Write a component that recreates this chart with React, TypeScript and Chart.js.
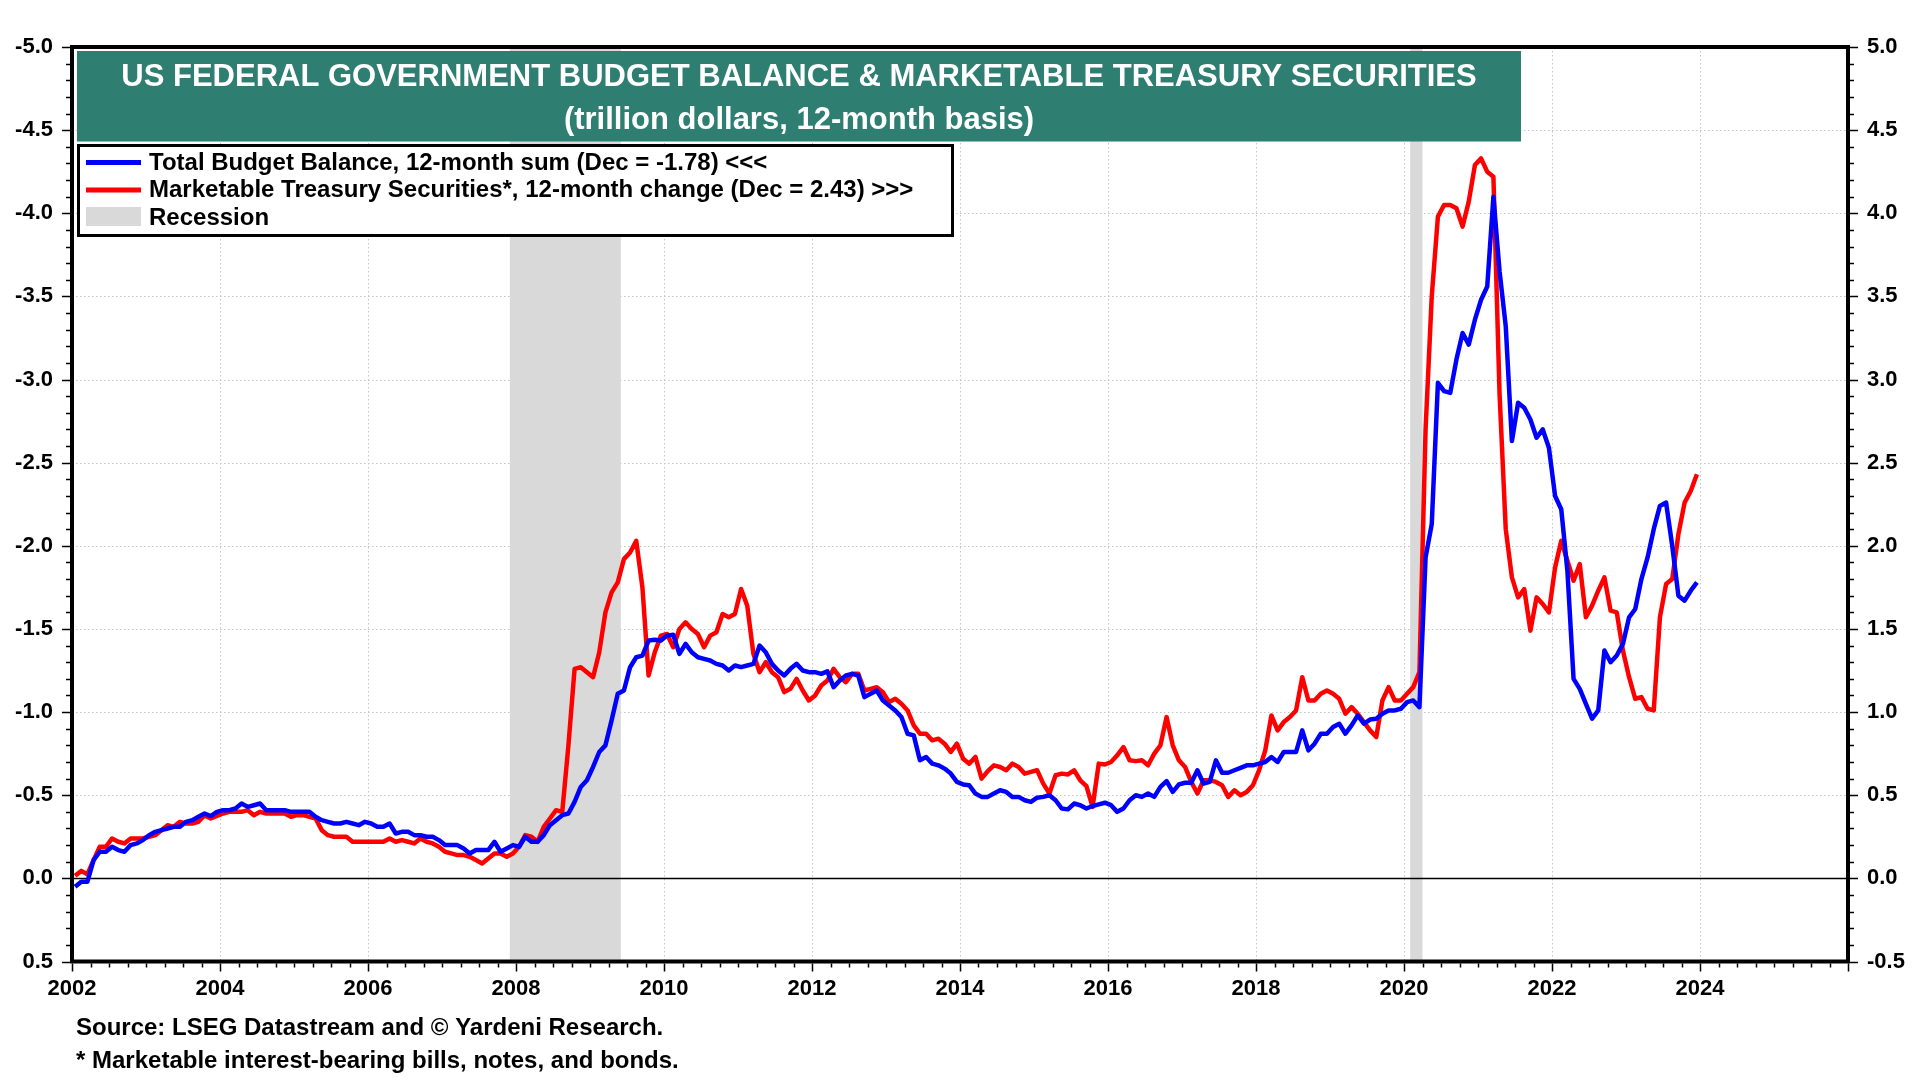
import React, { useEffect, useRef } from "react";
import { Chart, registerables } from "chart.js";

Chart.register(...registerables);

const FIRST_YEAR = 2002;

// Total budget balance, 12-month sum, trillion $ (Jan 2002 .. Dec 2023), left axis (inverted)
const budgetBalance: number[] = [
  0.05, 0.02, 0.02, -0.11, -0.16, -0.16, -0.19, -0.17, -0.16, -0.2, -0.21, -0.23,
  -0.26, -0.28, -0.29, -0.3, -0.31, -0.31, -0.34, -0.35, -0.37, -0.39, -0.375, -0.4,
  -0.41, -0.41, -0.42, -0.45, -0.43, -0.44, -0.45, -0.41, -0.41, -0.41, -0.41, -0.4,
  -0.4, -0.4, -0.4, -0.37, -0.35, -0.34, -0.33, -0.33, -0.34, -0.33, -0.32, -0.34,
  -0.33, -0.31, -0.31, -0.33, -0.27, -0.28, -0.28, -0.26, -0.26, -0.25, -0.25, -0.23,
  -0.2, -0.2, -0.2, -0.18, -0.15, -0.17, -0.17, -0.17, -0.22, -0.16, -0.18, -0.2,
  -0.19, -0.25, -0.22, -0.22, -0.26, -0.32, -0.35, -0.38, -0.39, -0.46, -0.55, -0.59,
  -0.67, -0.76, -0.8, -0.95, -1.11, -1.13, -1.27, -1.33, -1.34, -1.43, -1.435, -1.43,
  -1.46, -1.465, -1.35, -1.41, -1.36, -1.33, -1.32, -1.31, -1.29, -1.28, -1.25, -1.28,
  -1.27, -1.28, -1.29, -1.4, -1.36, -1.29, -1.25, -1.22, -1.26, -1.29, -1.25, -1.24,
  -1.24, -1.23, -1.245, -1.15, -1.19, -1.22, -1.23, -1.22, -1.09, -1.11, -1.13, -1.07,
  -1.04, -1.01, -0.97, -0.87, -0.86, -0.71, -0.73, -0.69, -0.68, -0.66, -0.63, -0.58,
  -0.565, -0.56, -0.51, -0.49, -0.49, -0.51, -0.53, -0.52, -0.49, -0.49, -0.47, -0.46,
  -0.485, -0.49, -0.5, -0.47, -0.42, -0.415, -0.45, -0.44, -0.42, -0.435, -0.445, -0.455,
  -0.44, -0.4, -0.42, -0.47, -0.5, -0.49, -0.51, -0.49, -0.55, -0.585, -0.52, -0.565,
  -0.575, -0.575, -0.65, -0.57, -0.58, -0.71, -0.635, -0.635, -0.65, -0.665, -0.68, -0.68,
  -0.69, -0.7, -0.73, -0.7, -0.76, -0.76, -0.76, -0.89, -0.77, -0.81, -0.87, -0.87,
  -0.91, -0.93, -0.87, -0.92, -0.98, -0.93, -0.955, -0.96, -0.99, -1.01, -1.01, -1.02,
  -1.06, -1.07, -1.03, -1.93, -2.13, -2.98, -2.93, -2.92, -3.12, -3.28, -3.21, -3.36,
  -3.48, -3.56, -4.1, -3.65, -3.32, -2.63, -2.86, -2.83, -2.76, -2.65, -2.7, -2.59,
  -2.3, -2.22, -1.85, -1.2, -1.14, -1.05, -0.96, -1.01, -1.37, -1.3, -1.34, -1.41,
  -1.57, -1.62, -1.8, -1.93, -2.1, -2.24, -2.26, -2.0, -1.7, -1.67, -1.73, -1.78,
];

// Marketable Treasury securities, 12-month change, trillion $ (Jan 2002 .. Dec 2023), right axis
const treasuryChange: number[] = [
  0.015, 0.045, 0.025, 0.11, 0.19, 0.19, 0.24, 0.22, 0.21, 0.24, 0.24, 0.24,
  0.25, 0.26, 0.29, 0.32, 0.31, 0.34, 0.33, 0.33, 0.34, 0.38, 0.36, 0.375,
  0.39, 0.4, 0.4, 0.4, 0.41, 0.38, 0.4, 0.39, 0.39, 0.39, 0.39, 0.37,
  0.38, 0.38, 0.37, 0.36, 0.29, 0.26, 0.25, 0.25, 0.25, 0.22, 0.22, 0.22,
  0.22, 0.22, 0.22, 0.24, 0.22, 0.23, 0.22, 0.21, 0.24, 0.22, 0.21, 0.19,
  0.16, 0.15, 0.14, 0.14, 0.13, 0.11, 0.09, 0.12, 0.15, 0.15, 0.13, 0.15,
  0.19, 0.26, 0.25, 0.22, 0.31, 0.36, 0.41, 0.4, 0.8, 1.26, 1.27, 1.24,
  1.21, 1.36, 1.6, 1.72, 1.78, 1.92, 1.96, 2.03, 1.75, 1.22, 1.36, 1.46,
  1.47, 1.39, 1.5, 1.54, 1.5, 1.47, 1.39, 1.46, 1.48, 1.59, 1.57, 1.59,
  1.74, 1.64, 1.35, 1.24, 1.3, 1.24, 1.21, 1.12, 1.14, 1.2, 1.13, 1.07,
  1.1, 1.16, 1.19, 1.26, 1.21, 1.18, 1.23, 1.23, 1.13, 1.14, 1.15, 1.12,
  1.06, 1.08, 1.05, 1.01, 0.92, 0.87, 0.87, 0.83, 0.84, 0.81, 0.76, 0.81,
  0.72, 0.69, 0.73, 0.6, 0.645, 0.68, 0.67, 0.65, 0.69, 0.67, 0.63, 0.64,
  0.65, 0.57, 0.51, 0.62, 0.63, 0.625, 0.65, 0.59, 0.555, 0.43, 0.69, 0.685,
  0.7, 0.74, 0.79, 0.71, 0.705, 0.71, 0.68, 0.75, 0.8, 0.97, 0.8, 0.71,
  0.67, 0.58, 0.51, 0.59, 0.59, 0.58, 0.56, 0.49, 0.53, 0.5, 0.52, 0.56,
  0.65, 0.77, 0.98, 0.89, 0.94, 0.97, 1.01, 1.21, 1.07, 1.07, 1.11, 1.13,
  1.11, 1.08, 0.99, 1.03, 0.99, 0.94, 0.89, 0.85, 1.07, 1.15, 1.07, 1.07,
  1.11, 1.15, 1.24, 2.7, 3.5, 3.98, 4.05, 4.05, 4.03, 3.92, 4.07, 4.29,
  4.33, 4.25, 4.22, 2.91, 2.1, 1.81, 1.69, 1.74, 1.49, 1.69, 1.65, 1.6,
  1.87, 2.03, 1.91, 1.79, 1.89, 1.57, 1.64, 1.73, 1.81, 1.61, 1.6, 1.37,
  1.21, 1.08, 1.09, 1.02, 1.01, 1.57, 1.77, 1.8, 2.07, 2.26, 2.33, 2.43,
];

// monthly observations, plotted mid-month
const monthDates: number[] = budgetBalance.map((_, i) => FIRST_YEAR + (i + 0.5) / 12);

const recessionStarts = [2007 + 11 / 12, 2020 + 1 / 12];
const recessionEnds = [2009 + 5 / 12, 2020 + 3 / 12];

const titleLines = [
  "US FEDERAL GOVERNMENT BUDGET BALANCE & MARKETABLE TREASURY SECURITIES",
  "(trillion dollars, 12-month basis)",
];
const seriesLabels = [
  "Total Budget Balance, 12-month sum (Dec = -1.78) <<<",
  "Marketable Treasury Securities*, 12-month change (Dec = 2.43) >>>",
];
const recessionLabel = "Recession";
const footnotes = [
  "Source: LSEG Datastream and \u00A9 Yardeni Research.",
  "* Marketable interest-bearing bills, notes, and bonds.",
];

const X_MIN = 2002;
const X_MAX = 2026;
const X_LAST_LABEL = 2024;
const LEFT_MIN = -5;
const LEFT_MAX = 0.5;
const RIGHT_MIN = -0.5;
const RIGHT_MAX = 5;

const FONT = '"Liberation Sans", Arial, Helvetica, sans-serif';
const BLUE = "#0000ff";
const RED = "#ff0000";
const TEAL = "#2e7e72";
const SHADE = "#d9d9d9";
const GRID = "#c4c4c4";

const decorPlugin = {
  id: "decor",
  beforeDraw(chart: any) {
    const { ctx, width, height } = chart;
    ctx.save();
    ctx.fillStyle = "#ffffff";
    ctx.fillRect(0, 0, width, height);
    ctx.restore();
  },
  beforeDatasetsDraw(chart: any) {
    const { ctx, chartArea: a, scales } = chart;
    const xs = scales.x;
    const yL = scales.yL;
    ctx.save();
    // dotted grid
    ctx.strokeStyle = GRID;
    ctx.lineWidth = 1;
    ctx.setLineDash([1.5, 2.5]);
    xs.ticks.forEach((t: any) => {
      if (t.value > xs.min && t.value < xs.max) {
        const px = Math.round(xs.getPixelForValue(t.value)) + 0.5;
        ctx.beginPath();
        ctx.moveTo(px, a.top);
        ctx.lineTo(px, a.bottom);
        ctx.stroke();
      }
    });
    yL.ticks.forEach((t: any) => {
      if (t.value > yL.min && t.value < yL.max) {
        const py = Math.round(yL.getPixelForValue(t.value)) + 0.5;
        ctx.beginPath();
        ctx.moveTo(a.left, py);
        ctx.lineTo(a.right, py);
        ctx.stroke();
      }
    });
    ctx.setLineDash([]);
    // recession shading
    ctx.fillStyle = SHADE;
    recessionStarts.forEach((s, i) => {
      const x0 = xs.getPixelForValue(s);
      const x1 = xs.getPixelForValue(recessionEnds[i]);
      ctx.fillRect(x0, a.top, x1 - x0, a.bottom - a.top);
    });
    // zero line
    const y0 = Math.round(yL.getPixelForValue(0)) + 0.5;
    ctx.strokeStyle = "#000000";
    ctx.lineWidth = 1.3;
    ctx.beginPath();
    ctx.moveTo(a.left, y0);
    ctx.lineTo(a.right, y0);
    ctx.stroke();
    ctx.restore();
  },
  afterDraw(chart: any) {
    const { ctx, chartArea: a, scales } = chart;
    const xs = scales.x;
    const yL = scales.yL;
    const yR = scales.yR;
    ctx.save();

    // frame
    ctx.strokeStyle = "#000000";
    ctx.lineWidth = 4;
    ctx.strokeRect(a.left, a.top, a.right - a.left, a.bottom - a.top);

    // tick marks
    ctx.lineWidth = 1.5;
    ctx.beginPath();
    const nQ = (X_MAX - X_MIN) * 4;
    for (let q = 0; q <= nQ; q++) {
      const v = X_MIN + q / 4;
      const major = q % 8 === 0;
      const px = Math.round(xs.getPixelForValue(v)) + 0.5;
      ctx.moveTo(px, a.bottom + 2);
      ctx.lineTo(px, a.bottom + 2 + (major ? 8 : 4));
    }
    const nY = Math.round((LEFT_MAX - LEFT_MIN) * 10);
    for (let k = 0; k <= nY; k++) {
      const major = k % 5 === 0;
      const len = major ? 8 : 4;
      const pl = Math.round(yL.getPixelForValue(LEFT_MIN + k / 10)) + 0.5;
      ctx.moveTo(a.left - 2, pl);
      ctx.lineTo(a.left - 2 - len, pl);
      const pr = Math.round(yR.getPixelForValue(RIGHT_MIN + k / 10)) + 0.5;
      ctx.moveTo(a.right + 2, pr);
      ctx.lineTo(a.right + 2 + len, pr);
    }
    ctx.stroke();

    // title box
    ctx.fillStyle = TEAL;
    ctx.fillRect(77, 51, 1444, 90.5);
    ctx.fillStyle = "#ffffff";
    ctx.textAlign = "center";
    ctx.textBaseline = "alphabetic";
    ctx.font = `bold 31px ${FONT}`;
    ctx.fillText(titleLines[0], 799, 85.5);
    ctx.fillText(titleLines[1], 799, 128.5);

    // legend box
    ctx.fillStyle = "#ffffff";
    ctx.fillRect(78.5, 145.5, 874, 90);
    ctx.strokeStyle = "#000000";
    ctx.lineWidth = 3;
    ctx.strokeRect(78.5, 145.5, 874, 90);
    const rows = [161, 188.5, 216];
    ctx.font = `bold 24px ${FONT}`;
    ctx.textAlign = "left";
    chart.data.datasets.forEach((ds: any, i: number) => {
      ctx.strokeStyle = ds.borderColor;
      ctx.lineWidth = 5;
      ctx.beginPath();
      ctx.moveTo(86, rows[i] + 1.5);
      ctx.lineTo(141, rows[i] + 1.5);
      ctx.stroke();
      ctx.fillStyle = "#000000";
      ctx.fillText(ds.label, 149, rows[i] + 8.6);
    });
    ctx.fillStyle = SHADE;
    ctx.fillRect(86, 207, 55, 19);
    ctx.fillStyle = "#000000";
    ctx.fillText(recessionLabel, 149, rows[2] + 8.6);

    // footnotes
    ctx.font = `bold 24px ${FONT}`;
    ctx.fillText(footnotes[0], 76, 1034.5);
    ctx.fillText(footnotes[1], 76, 1067.5);

    ctx.restore();
  },
};

export default function App() {
  const canvasRef = useRef<HTMLCanvasElement | null>(null);

  useEffect(() => {
    document.body.style.margin = "0";
    const canvas = canvasRef.current;
    if (!canvas) return;
    const tickFont = { family: FONT, size: 22, weight: "bold" as const };
    const chart = new Chart(canvas, {
      type: "line",
      data: {
        datasets: [
          {
            label: seriesLabels[0],
            data: monthDates.map((x, i) => ({ x, y: budgetBalance[i] })),
            borderColor: BLUE,
            backgroundColor: BLUE,
            borderWidth: 4.5,
            pointRadius: 0,
            tension: 0,
            borderJoinStyle: "round",
            yAxisID: "yL",
          },
          {
            label: seriesLabels[1],
            data: monthDates.map((x, i) => ({ x, y: treasuryChange[i] })),
            borderColor: RED,
            backgroundColor: RED,
            borderWidth: 4.5,
            pointRadius: 0,
            tension: 0,
            borderJoinStyle: "round",
            yAxisID: "yR",
          },
        ],
      },
      options: {
        responsive: false,
        animation: false,
        devicePixelRatio: 1,
        events: [],
        layout: { padding: { top: 47, left: 0, right: 0, bottom: 0 } },
        plugins: {
          legend: { display: false },
          tooltip: { enabled: false },
          title: { display: false },
        },
        scales: {
          x: {
            type: "linear",
            min: X_MIN,
            max: X_MAX,
            grid: { display: false, drawTicks: false },
            border: { display: false },
            ticks: {
              stepSize: 2,
              autoSkip: false,
              maxRotation: 0,
              padding: 14,
              color: "#000000",
              font: tickFont,
              callback: (v: any) => (Number(v) <= X_LAST_LABEL ? String(v) : ""),
            },
            afterFit: (s: any) => {
              s.height = 118.5;
            },
          },
          yL: {
            type: "linear",
            position: "left",
            reverse: true,
            min: LEFT_MIN,
            max: LEFT_MAX,
            grid: { display: false, drawTicks: false },
            border: { display: false },
            ticks: {
              stepSize: 0.5,
              padding: 19,
              color: "#000000",
              font: tickFont,
              callback: (v: any) => Number(v).toFixed(1),
            },
            afterFit: (s: any) => {
              s.width = 72;
            },
          },
          yR: {
            type: "linear",
            position: "right",
            min: RIGHT_MIN,
            max: RIGHT_MAX,
            grid: { display: false, drawTicks: false },
            border: { display: false },
            ticks: {
              stepSize: 0.5,
              padding: 19,
              color: "#000000",
              font: tickFont,
              callback: (v: any) => Number(v).toFixed(1),
            },
            afterFit: (s: any) => {
              s.width = 72;
            },
          },
        },
      },
      plugins: [decorPlugin],
    } as any);
    return () => chart.destroy();
  }, []);

  return (
    <canvas
      ref={canvasRef}
      width={1920}
      height={1080}
      style={{ display: "block", width: "1920px", height: "1080px" }}
    />
  );
}
